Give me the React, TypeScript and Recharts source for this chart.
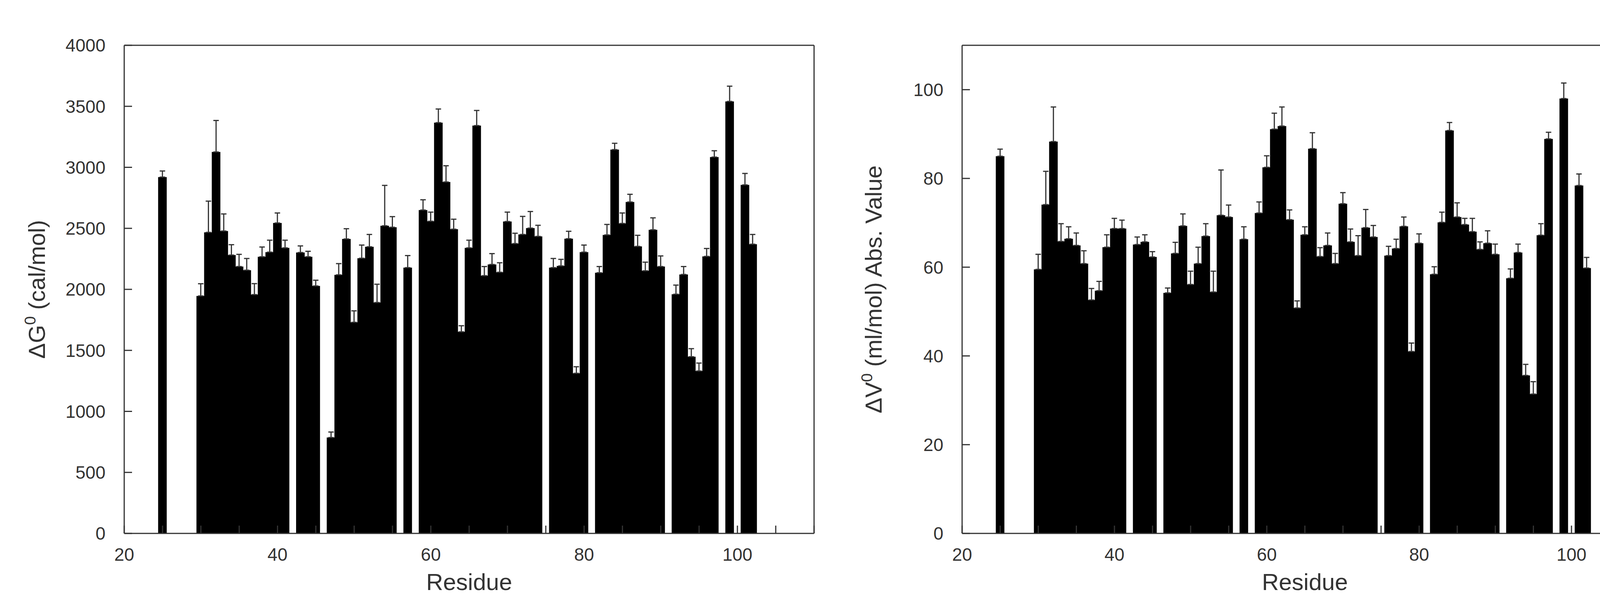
import React from 'react';
import { Bar, BarChart, ErrorBar, Label, XAxis, YAxis } from 'recharts';

const residues = [
  25, 30, 31, 32, 33, 34, 35, 36, 37, 38, 39, 40, 41, 43, 44, 45, 47, 48, 49, 50, 51, 52, 53, 54, 55, 57, 59, 60, 61,
  62, 63, 64, 65, 66, 67, 68, 69, 70, 71, 72, 73, 74, 76, 77, 78, 79, 80, 82, 83, 84, 85, 86, 87, 88, 89, 90, 92, 93,
  94, 95, 96, 97, 99, 101, 102,
];

// ΔG0 (cal/mol)
const dG = [
  2920, 1946, 2467, 3126, 2478, 2281, 2187, 2157, 1957, 2267, 2305, 2544, 2340, 2302, 2267, 2028, 786, 2119, 2413, 1730,
  2255, 2349, 1892, 2521, 2509, 2178, 2650, 2558, 3366, 2880, 2493, 1652, 2340, 3342, 2112, 2204, 2140, 2556, 2375,
  2450, 2502, 2434, 2178, 2192, 2415, 1312, 2305, 2136, 2446, 3145, 2540, 2716, 2352, 2152, 2488, 2187, 1960, 2122,
  1448, 1331, 2270, 3084, 3540, 2856, 2370,
];
const dGErr = [
  50, 100, 256, 258, 140, 85, 100, 96, 90, 80, 98, 82, 63, 54, 45, 47, 45, 92, 84, 94, 108, 101, 150, 331, 87, 99, 84,
  75, 112, 133, 82, 50, 63, 124, 75, 89, 78, 77, 85, 148, 136, 91, 75, 54, 61, 54, 58, 51, 86, 52, 86, 63, 91, 71, 98,
  87, 75, 65, 66, 65, 65, 52, 125, 94, 80,
];

// |ΔV0| (ml/mol)
const dV = [
  85.0, 59.5, 74.1, 88.3, 65.8, 66.4, 64.9, 60.8, 52.6, 54.7, 64.5, 68.7, 68.7, 65.1, 65.7, 62.3, 54.2, 63.1, 69.3, 56.1,
  60.8, 67.0, 54.4, 71.7, 71.3, 66.3, 72.2, 82.5, 91.1, 91.8, 70.7, 50.8, 67.3, 86.7, 62.4, 64.9, 60.8, 74.3, 65.7, 62.6,
  68.9, 66.8, 62.6, 64.2, 69.2, 41.0, 65.4, 58.4, 70.1, 90.8, 71.3, 69.6, 68.0, 64.0, 65.4, 62.9, 57.5, 63.3, 35.6, 31.4,
  67.2, 88.9, 98.0, 78.4, 59.8,
];
const dVErr = [
  1.6, 3.4, 7.5, 7.8, 4.0, 2.7, 2.8, 2.9, 2.6, 2.1, 2.8, 2.3, 1.9, 1.7, 1.6, 1.2, 1.1, 2.5, 2.7, 3.0, 3.7, 2.8, 4.7, 10.2,
  2.7, 2.8, 2.5, 2.6, 3.6, 4.3, 2.2, 1.6, 1.8, 3.6, 2.0, 2.8, 2.3, 2.5, 2.9, 4.5, 4.1, 2.6, 2.1, 2.1, 2.1, 1.9, 2.1, 1.7,
  2.3, 1.8, 3.2, 1.4, 3.0, 1.7, 2.8, 2.3, 2.1, 1.9, 2.5, 2.8, 2.6, 1.5, 3.5, 2.6, 2.4,
];

const xTicks = [20, 25, 30, 35, 40, 45, 50, 55, 60, 65, 70, 75, 80, 85, 90, 95, 100, 105, 110];
const xLabels = [20, 40, 60, 80, 100];
const dGTicks = [0, 500, 1000, 1500, 2000, 2500, 3000, 3500, 4000];
const dVTicks = [0, 20, 40, 60, 80, 100];

const rows = residues.map((r, i) => ({
  residue: r,
  dG: dG[i],
  dGErr: [0, dGErr[i]],
  dV: dV[i],
  dVErr: [0, dVErr[i]],
}));

const FONT = '"Liberation Sans", Arial, Helvetica, sans-serif';
const INK = '#333';
const TICK = { fill: INK, fontSize: 46, fontFamily: FONT };

// boxes are a touch wider than one residue so neighbours meet without seams
function Box(props: any) {
  const { x, y, width, height } = props;
  if (x == null || y == null || !height) return null;
  return <rect x={x - 1.5} y={y} width={width + 3} height={height} fill="#000" />;
}

function YTitle({ x, cy, main, rest }: { x: number; cy: number; main: string; rest: string }) {
  return (
    <text
      x={x}
      y={cy}
      transform={`rotate(-90, ${x}, ${cy})`}
      textAnchor="middle"
      fill={INK}
      fontSize={60}
      fontFamily={FONT}
    >
      {main}
      <tspan dy={-24} fontSize={40}>
        0
      </tspan>
      <tspan dy={24}>{rest}</tspan>
    </text>
  );
}

interface PanelProps {
  left: number;
  width: number;
  plotLeft: number;
  plotRight: number;
  titleX: number;
  dataKey: string;
  errKey: string;
  domain: [number, number];
  yTicks: number[];
  main: string;
  rest: string;
}

function Panel(p: PanelProps) {
  const top = 116;
  const bottom = 1366;
  const height = 1557;
  const xAxisH = 100;
  const yAxisW = 100;
  return (
    <div style={{ position: 'absolute', left: p.left, top: 0 }}>
      <BarChart
        width={p.width}
        height={height}
        data={rows}
        barCategoryGap={0}
        barGap={0}
        margin={{ top: top - 1, right: p.width - p.plotRight - 1, bottom: height - bottom - xAxisH, left: p.plotLeft - yAxisW }}
      >
        <XAxis
          dataKey="residue"
          type="number"
          domain={[20, 110]}
          allowDataOverflow
          ticks={xTicks}
          interval={0}
          height={xAxisH}
          tickSize={-20}
          tickMargin={57}
          tick={TICK}
          tickFormatter={(v: number) => (xLabels.includes(v) ? String(v) : '')}
          axisLine={{ stroke: INK, strokeWidth: 3 }}
          tickLine={{ stroke: INK, strokeWidth: 3 }}
        >
          <Label
            content={({ viewBox }: any) => (
              <text
                x={viewBox.x + viewBox.width / 2}
                y={viewBox.y + 145}
                textAnchor="middle"
                fill={INK}
                fontSize={60}
                fontFamily={FONT}
              >
                Residue
              </text>
            )}
          />
        </XAxis>
        <XAxis
          xAxisId="top"
          orientation="top"
          type="number"
          domain={[20, 110]}
          allowDataOverflow
          ticks={xTicks}
          interval={0}
          height={1}
          tickSize={-20}
          tick={false}
          axisLine={{ stroke: INK, strokeWidth: 3 }}
          tickLine={{ stroke: INK, strokeWidth: 3 }}
        />
        <YAxis
          type="number"
          domain={p.domain}
          allowDataOverflow
          ticks={p.yTicks}
          interval={0}
          width={yAxisW}
          tickSize={-20}
          tickMargin={68}
          tick={TICK}
          axisLine={{ stroke: INK, strokeWidth: 3 }}
          tickLine={{ stroke: INK, strokeWidth: 3 }}
        >
          <Label
            content={({ viewBox }: any) => (
              <YTitle x={p.titleX} cy={viewBox.y + viewBox.height / 2} main={p.main} rest={p.rest} />
            )}
          />
        </YAxis>
        <YAxis
          yAxisId="right"
          orientation="right"
          type="number"
          domain={p.domain}
          allowDataOverflow
          ticks={p.yTicks}
          interval={0}
          width={1}
          tickSize={-20}
          tick={false}
          axisLine={{ stroke: INK, strokeWidth: 3 }}
          tickLine={{ stroke: INK, strokeWidth: 3 }}
        />
        <Bar dataKey={p.dataKey} fill="#000" barSize={19} shape={<Box />} isAnimationActive={false}>
          <ErrorBar dataKey={p.errKey} width={7} stroke={INK} strokeWidth={3} direction="y" />
        </Bar>
      </BarChart>
    </div>
  );
}

export default function App() {
  return (
    <div style={{ position: 'absolute', left: 0, top: 0, width: 4304, height: 1557, background: '#fff' }}>
      <Panel
        left={0}
        width={2150}
        plotLeft={318}
        plotRight={2084}
        titleX={115}
        dataKey="dG"
        errKey="dGErr"
        domain={[0, 4000]}
        yTicks={dGTicks}
        main="ΔG"
        rest=" (cal/mol)"
      />
      <Panel
        left={2150}
        width={2154}
        plotLeft={313}
        plotRight={2068}
        titleX={107}
        dataKey="dV"
        errKey="dVErr"
        domain={[0, 110]}
        yTicks={dVTicks}
        main="ΔV"
        rest=" (ml/mol) Abs. Value"
      />
    </div>
  );
}
